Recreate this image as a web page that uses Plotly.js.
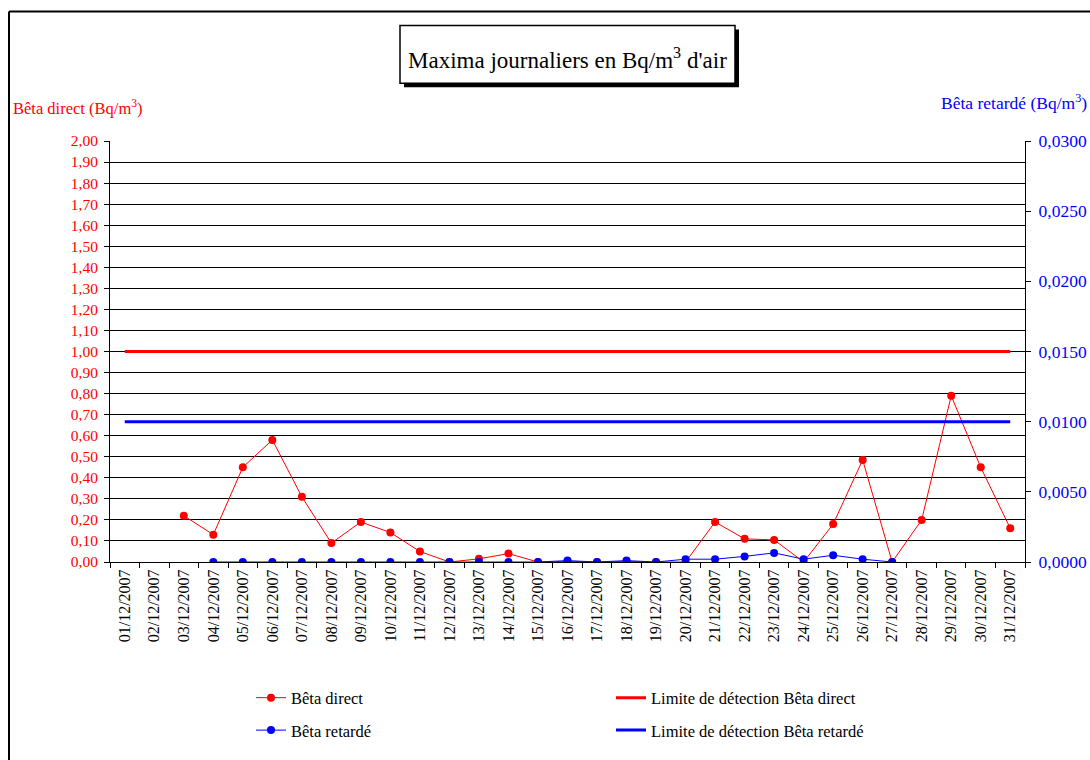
<!DOCTYPE html>
<html>
<head>
<meta charset="utf-8">
<script src="https://cdn.plot.ly/plotly-3.0.1.min.js"></script>
<style>
  html, body { margin: 0; padding: 0; background: #fff; }
  #chart { width: 1090px; height: 760px; }
</style>
</head>
<body>
<div id="chart"></div>
<script>
// ---- data ----
const dates = [
  "01/12/2007","02/12/2007","03/12/2007","04/12/2007","05/12/2007","06/12/2007",
  "07/12/2007","08/12/2007","09/12/2007","10/12/2007","11/12/2007","12/12/2007",
  "13/12/2007","14/12/2007","15/12/2007","16/12/2007","17/12/2007","18/12/2007",
  "19/12/2007","20/12/2007","21/12/2007","22/12/2007","23/12/2007","24/12/2007",
  "25/12/2007","26/12/2007","27/12/2007","28/12/2007","29/12/2007","30/12/2007",
  "31/12/2007"
];
const betaDirect = [
  null, null, 0.22, 0.13, 0.45, 0.58, 0.31, 0.09, 0.19, 0.14, 0.05, 0.00,
  0.015, 0.04, 0.00, 0.003, 0.00, 0.003, 0.00, 0.00, 0.19, 0.11, 0.105, 0.00,
  0.18, 0.485, 0.00, 0.20, 0.79, 0.45, 0.16
];
const betaRetarde = [
  null, null, null, 0.0000, 0.0000, 0.0000, 0.0000, 0.0000, 0.0000, 0.0000, 0.0000, 0.0000,
  0.0000, 0.0000, 0.0000, 0.0001, 0.0000, 0.0001, 0.0000, 0.0002, 0.0002, 0.0004, 0.00065, 0.0002,
  0.00048, 0.0002, 0.0000, null, null, null, null
];
const limiteBetaDirect = 1.00;
const limiteBetaRetarde = 0.0100;
const leftTicks = [0,0.1,0.2,0.3,0.4,0.5,0.6,0.7,0.8,0.9,1.0,1.1,1.2,1.3,1.4,1.5,1.6,1.7,1.8,1.9,2.0];
const rightTicks = [0, 0.005, 0.010, 0.015, 0.020, 0.025, 0.030];

// ---- layout geometry ----
const W = 1090, H = 760;
const ML = 110, MR = 65, MT = 141, MB = 196;
const PW = W - ML - MR, PH = H - MT - MB;
const px = x => (x - ML) / PW;
const py = y => (H - MB - y) / PH;

const FONT = "Liberation Serif, Times New Roman, serif";
const firstLast = [dates[0], dates[dates.length - 1]];

const traces = [
  {
    x: firstLast, y: [limiteBetaDirect, limiteBetaDirect],
    name: "Limite de détection Bêta direct", type: "scatter", mode: "lines",
    line: { color: "#ff0000", width: 3 }, legend: "legend2", legendgroup: "c", yaxis: "y"
  },
  {
    x: firstLast, y: [limiteBetaRetarde, limiteBetaRetarde],
    name: "Limite de détection Bêta retardé", type: "scatter", mode: "lines",
    line: { color: "#0000ff", width: 3 }, legend: "legend2", legendgroup: "d", yaxis: "y2"
  },
  {
    x: dates, y: betaDirect, name: "Bêta direct", type: "scatter", mode: "lines+markers",
    line: { color: "#ff0000", width: 1 }, marker: { color: "#ff0000", size: 8 },
    legend: "legend", legendgroup: "a", yaxis: "y", connectgaps: false
  },
  {
    x: dates, y: betaRetarde, name: "Bêta retardé", type: "scatter", mode: "lines+markers",
    line: { color: "#0000ff", width: 1 }, marker: { color: "#0000ff", size: 8 },
    legend: "legend", legendgroup: "b", yaxis: "y2", connectgaps: false
  }
];

const legendCommon = {
  font: { family: FONT, size: 16.5, color: "#000" },
  bgcolor: "rgba(0,0,0,0)", borderwidth: 0,
  orientation: "v", xanchor: "left", yanchor: "top",
  tracegroupgap: 8, itemwidth: 30, traceorder: "grouped"
};

const layout = {
  width: W, height: H,
  margin: { l: ML, r: MR, t: MT, b: MB, pad: 0 },
  paper_bgcolor: "#fff", plot_bgcolor: "#fff",
  separators: ",.",
  font: { family: FONT, size: 15, color: "#000" },
  showlegend: true,
  legend: Object.assign({}, legendCommon, { x: px(251), y: py(683) }),
  legend2: Object.assign({}, legendCommon, { x: px(611), y: py(683) }),
  xaxis: {
    type: "category", categoryorder: "array", categoryarray: dates,
    range: [-0.5, dates.length - 0.5],
    tickson: "boundaries", ticks: "outside", ticklen: 5, tickcolor: "#000",
    tickangle: -90, tickfont: { family: FONT, size: 16, color: "#000" },
    showline: true, linecolor: "#000", linewidth: 1,
    showgrid: false, zeroline: false, fixedrange: true
  },
  yaxis: {
    range: [0, 2], tickmode: "array", tickvals: leftTicks, tickformat: ".2f",
    tickfont: { family: FONT, size: 15.5, color: "#ff0000" },
    ticks: "outside", ticklen: 5, tickcolor: "#000", ticklabelstandoff: 3,
    showline: true, linecolor: "#000", linewidth: 1,
    showgrid: true, gridcolor: "#000", gridwidth: 1,
    zeroline: false, fixedrange: true
  },
  yaxis2: {
    overlaying: "y", side: "right",
    range: [0, 0.03], tickmode: "array", tickvals: rightTicks, tickformat: ".4f",
    tickfont: { family: FONT, size: 17.5, color: "#0000ff" },
    ticks: "outside", ticklen: 5, tickcolor: "#000", ticklabelstandoff: 4,
    showline: true, linecolor: "#000", linewidth: 1,
    showgrid: false, zeroline: false, fixedrange: true
  },
  shapes: [
    { type: "line", xref: "paper", yref: "paper", x0: px(9), x1: px(1095), y0: py(11), y1: py(11),
      line: { color: "#000", width: 2 }, layer: "above" },
    { type: "line", xref: "paper", yref: "paper", x0: px(9), x1: px(9), y0: py(11), y1: py(770),
      line: { color: "#000", width: 2 }, layer: "above" },
    { type: "rect", xref: "paper", yref: "paper", x0: px(404), x1: px(739), y0: py(29), y1: py(87),
      fillcolor: "#000", line: { color: "#000", width: 0 }, layer: "above" },
    { type: "rect", xref: "paper", yref: "paper", x0: px(400), x1: px(735), y0: py(25), y1: py(83),
      fillcolor: "#fff", line: { color: "#000", width: 1.5 }, layer: "above" }
  ],
  annotations: [
    { text: "Maxima journaliers en Bq/m<sup>3</sup> d'air", xref: "paper", yref: "paper",
      x: px(567), y: py(58), xanchor: "center", yanchor: "middle", showarrow: false,
      font: { family: FONT, size: 23, color: "#000" } },
    { text: "Bêta direct (Bq/m<sup>3</sup>)", xref: "paper", yref: "paper",
      x: px(11), y: py(107), xanchor: "left", yanchor: "middle", showarrow: false,
      font: { family: FONT, size: 16.5, color: "#ff0000" } },
    { text: "Bêta retardé (Bq/m<sup>3</sup>)", xref: "paper", yref: "paper",
      x: px(1089), y: py(102), xanchor: "right", yanchor: "middle", showarrow: false,
      font: { family: FONT, size: 17.5, color: "#0000ff" } }
  ]
};

Plotly.newPlot("chart", traces, layout, { displayModeBar: false, staticPlot: true });
</script>
</body>
</html>
